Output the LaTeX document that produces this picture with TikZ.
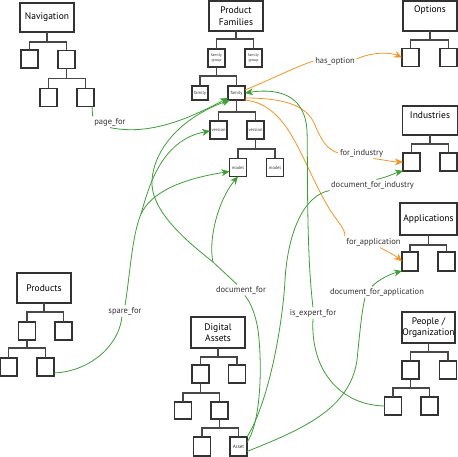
\documentclass[tikz,border=0pt]{standalone}
\usepackage{fontspec}
\setmainfont{PT Sans}
\usetikzlibrary{arrows.meta}
\definecolor{grn}{RGB}{58,160,50}
\definecolor{org}{RGB}{247,148,29}
\definecolor{lbl}{RGB}{50,50,50}
\begin{document}
\begin{tikzpicture}[x=1pt,y=-1pt,
  bx/.style={draw=black!80,line width=1.05pt,inner sep=0pt,outer sep=0pt,align=center,font=\fontsize{9.5}{11.5}\selectfont},
  leaf/.style={draw=black!80,line width=1.05pt,inner sep=0pt,outer sep=0pt,minimum width=17pt,minimum height=18pt,align=center,font=\fontsize{4.5}{5}\selectfont,text=black!80},
  treeln/.style={draw=black!72,line width=1.05pt},
  elbl/.style={font=\fontsize{8.5}{10}\selectfont,text=lbl,inner sep=1.5pt},
  grnline/.style={draw=grn,line width=0.8pt},
  orgline/.style={draw=org,line width=0.8pt},
  arr/.style={-{Stealth[length=8pt,width=7pt,inset=2.5pt]}},
]
\useasboundingbox (0,0) rectangle (458,457);

% Navigation
\node[bx,minimum width=54pt,minimum height=29pt] (nav) at (47,17.5) {Navigation};
\node[leaf] (nav1) at (29.5,59) {};
\node[leaf] (nav2) at (66.5,59.5) {};
\node[leaf] (nav21) at (48.5,97.5) {};
\node[leaf] (nav22) at (85.5,97.5) {};
\draw[treeln] (nav.south) -- ++(0,10) -| (nav1.north);
\draw[treeln] (nav.south) -- ++(0,10) -| (nav2.north);
\draw[treeln] (nav2.south) -- ++(0,10) -| (nav21.north);
\draw[treeln] (nav2.south) -- ++(0,10) -| (nav22.north);

% Product Families
\node[bx,minimum width=54pt,minimum height=30pt] (pf) at (236,16) {Product\\Families};
\node[leaf,font=\fontsize{4}{4.8}\selectfont] (fg1) at (216.5,58) {family\\group};
\node[leaf,font=\fontsize{4}{4.8}\selectfont] (fg2) at (253.5,58) {family\\group};
\node[leaf,minimum width=16pt,minimum height=14pt] (fam1) at (200,93) {family};
\node[leaf,minimum height=14pt] (fam2) at (236.5,93) {family};
\node[leaf] (ver1) at (218.5,130) {version};
\node[leaf] (ver2) at (255.5,130) {version};
\node[leaf] (mod1) at (238,167.5) {model};
\node[leaf] (mod2) at (275,167.5) {model};
\draw[treeln] (pf.south) -- ++(0,8) -| (fg1.north);
\draw[treeln] (pf.south) -- ++(0,8) -| (fg2.north);
\draw[treeln] (fg1.south) -- ++(0,9) -| (fam1.north);
\draw[treeln] (fg1.south) -- ++(0,9) -| (fam2.north);
\draw[treeln] (fam2.south) -- ++(0,12) -| (ver1.north);
\draw[treeln] (fam2.south) -- ++(0,12) -| (ver2.north);
\draw[treeln] (ver2.south) -- ++(0,10) -| (mod1.north);
\draw[treeln] (ver2.south) -- ++(0,10) -| (mod2.north);

% Options
\node[bx,minimum width=54pt,minimum height=30pt] (opt) at (430,16) {Options\\[3pt]};
\node[leaf] (opt1) at (410.5,57.5) {};
\node[leaf] (opt2) at (448.5,57.5) {};
\draw[treeln] (opt.south) -- ++(0,9) -| (opt1.north);
\draw[treeln] (opt.south) -- ++(0,9) -| (opt2.north);

% Industries
\node[bx,minimum width=55pt,minimum height=29pt] (ind) at (430,120.5) {Industries\\[0pt]};
\node[leaf] (ind1) at (411.5,162) {};
\node[leaf] (ind2) at (448.5,162) {};
\draw[treeln] (ind.south) -- ++(0,9) -| (ind1.north);
\draw[treeln] (ind.south) -- ++(0,9) -| (ind2.north);

% Applications
\node[bx,minimum width=57pt,minimum height=32pt] (app) at (428.5,219) {Applications};
\node[leaf,minimum width=16pt,minimum height=19pt] (app1) at (410,261.5) {};
\node[leaf,minimum height=19pt] (app2) at (446.5,261.5) {};
\draw[treeln] (app.south) -- ++(0,10) -| (app1.north);
\draw[treeln] (app.south) -- ++(0,10) -| (app2.north);

% People / Organization
\node[bx,minimum width=53pt,minimum height=31pt] (ppl) at (428.5,327.5) {People /\\Organization};
\node[leaf] (ppl1) at (410.5,370) {};
\node[leaf] (ppl2) at (448,370) {};
\node[leaf] (ppl11) at (393,406) {};
\node[leaf] (ppl12) at (429.5,406) {};
\draw[treeln] (ppl.south) -- ++(0,9) -| (ppl1.north);
\draw[treeln] (ppl.south) -- ++(0,9) -| (ppl2.north);
\draw[treeln] (ppl1.south) -- ++(0,9) -| (ppl11.north);
\draw[treeln] (ppl1.south) -- ++(0,9) -| (ppl12.north);

% Products
\node[bx,minimum width=54pt,minimum height=30pt] (prd) at (44,288) {Products};
\node[leaf] (prd1) at (27,331) {};
\node[leaf] (prd2) at (63.5,331) {};
\node[leaf] (prd11) at (8.5,367) {};
\node[leaf] (prd12) at (45.5,367) {};
\draw[treeln] (prd.south) -- ++(0,9) -| (prd1.north);
\draw[treeln] (prd.south) -- ++(0,9) -| (prd2.north);
\draw[treeln] (prd1.south) -- ++(0,8) -| (prd11.north);
\draw[treeln] (prd1.south) -- ++(0,8) -| (prd12.north);

% Digital Assets
\node[bx,minimum width=54pt,minimum height=31pt] (da) at (218,332.5) {Digital\\Assets};
\node[leaf] (da1) at (200.5,374) {};
\node[leaf] (da2) at (237,374) {};
\node[leaf,minimum height=17pt] (da11) at (183,410.5) {};
\node[leaf,minimum height=17pt] (da12) at (219.5,410.5) {};
\node[leaf,minimum height=19pt] (da121) at (202,446.5) {};
\node[leaf,minimum height=19pt,font=\fontsize{5}{6}\selectfont] (asset) at (238.5,446.5) {Asset};
\draw[treeln] (da.south) -- ++(0,9) -| (da1.north);
\draw[treeln] (da.south) -- ++(0,9) -| (da2.north);
\draw[treeln] (da1.south) -- ++(0,10) -| (da11.north);
\draw[treeln] (da1.south) -- ++(0,10) -| (da12.north);
\draw[treeln] (da12.south) -- ++(0,9) -| (da121.north);
\draw[treeln] (da12.south) -- ++(0,9) -| (asset.north);

% edge labels
\node[elbl] (lpage) at (110,122) {page\_for};
\node[elbl] (lopt) at (335,61) {has\_option};
\node[elbl] (lind) at (361.5,153) {for\_industry};
\node[elbl] (ldind) at (372.5,185) {document\_for\_industry};
\node[elbl] (lapp) at (373.5,242) {for\_application};
\node[elbl] (ldapp) at (377,292) {document\_for\_application};
\node[elbl] (ldoc) at (241,290) {document\_for};
\node[elbl] (lexp) at (313,313) {is\_expert\_for};
\node[elbl] (lspare) at (125,311) {spare\_for};

\coordinate (sj) at (141,214);
\coordinate (dj1) at (213,262);

% page_for
\draw[grnline] ([xshift=-2pt]nav22.south east) .. controls (93,112) .. (lpage.north west);
\draw[grnline,arr] (lpage.south) .. controls (150,136) and (190,118) .. ([yshift=2pt]fam2.south west);

% has_option
\draw[orgline] ([yshift=3pt]fam2.east) .. controls (270,80) and (295,67) .. (lopt.west);
\draw[orgline,arr] ([yshift=2pt]lopt.east) .. controls (372,52) and (390,52) .. (opt1.west);

% for_industry
\draw[orgline] ([yshift=-5pt]fam2.east) .. controls (290,98) and (308,108) .. (315,125) .. controls (322,142) and (328,150) .. (lind.west);
\draw[orgline,arr] (lind.-25) .. controls (385,160) and (393,162) .. (ind1.west);

% for_application
\draw[orgline] ([yshift=-7pt]fam2.east) .. controls (290,105) and (300,160) .. (330,210) .. controls (338,222) and (346,230) .. (lapp.north west);
\draw[orgline,arr] (lapp.-40) .. controls (390,253) and (396,256) .. (app1.west);

% document_for_industry
\draw[grnline] (asset.north east) .. controls (270,400) and (283,320) .. (285,280) .. controls (288,230) and (305,195) .. (ldind.south west);
\draw[grnline,arr] ([xshift=4pt]ldind.north) .. controls (388,177) and (395,173) .. (ind1.south west);

% document_for_application
\draw[grnline] ([yshift=-5pt]asset.east) .. controls (300,430) and (350,410) .. (357,360) .. controls (360,330) and (362,310) .. ([xshift=-12pt]ldapp.south);
\draw[grnline,arr] ([xshift=-5pt]ldapp.north) .. controls (378,280) and (390,274) .. (app1.south west);

% document_for
\draw[grnline] ([yshift=4pt]asset.east) .. controls (262,420) and (262,360) .. (258,330) .. controls (255,312) and (250,302) .. ([xshift=4pt]ldoc.south);
\draw[grnline] ([xshift=-4pt]ldoc.north) -- (dj1);
\draw[grnline,arr] (dj1) .. controls (208,240) and (218,200) .. (mod1.south);
\draw[grnline,arr] (dj1) .. controls (185,240) and (150,210) .. (152,180) .. controls (154,150) and (180,118) .. ([xshift=2pt]fam2.south west);

% spare_for
\draw[grnline] ([yshift=-6pt]prd12.east) .. controls (85,372) and (118,350) .. ([xshift=-3pt]lspare.south);
\draw[grnline] (lspare.north) .. controls (130,275) and (132,235) .. (sj);
\draw[grnline,arr] (sj) .. controls (148,190) and (160,140) .. ([yshift=-1pt]ver1.west);
\draw[grnline,arr] (sj) .. controls (150,195) and (175,180) .. ([yshift=-4pt]mod1.west);

% is_expert_for
\draw[grnline] (ppl11.west) .. controls (340,405) and (310,370) .. (lexp.south);
\draw[grnline,arr] (lexp.north) .. controls (306,250) and (308,160) .. (307,130) .. controls (305,100) and (285,87) .. (fam2.east);
\end{tikzpicture}
\end{document}
